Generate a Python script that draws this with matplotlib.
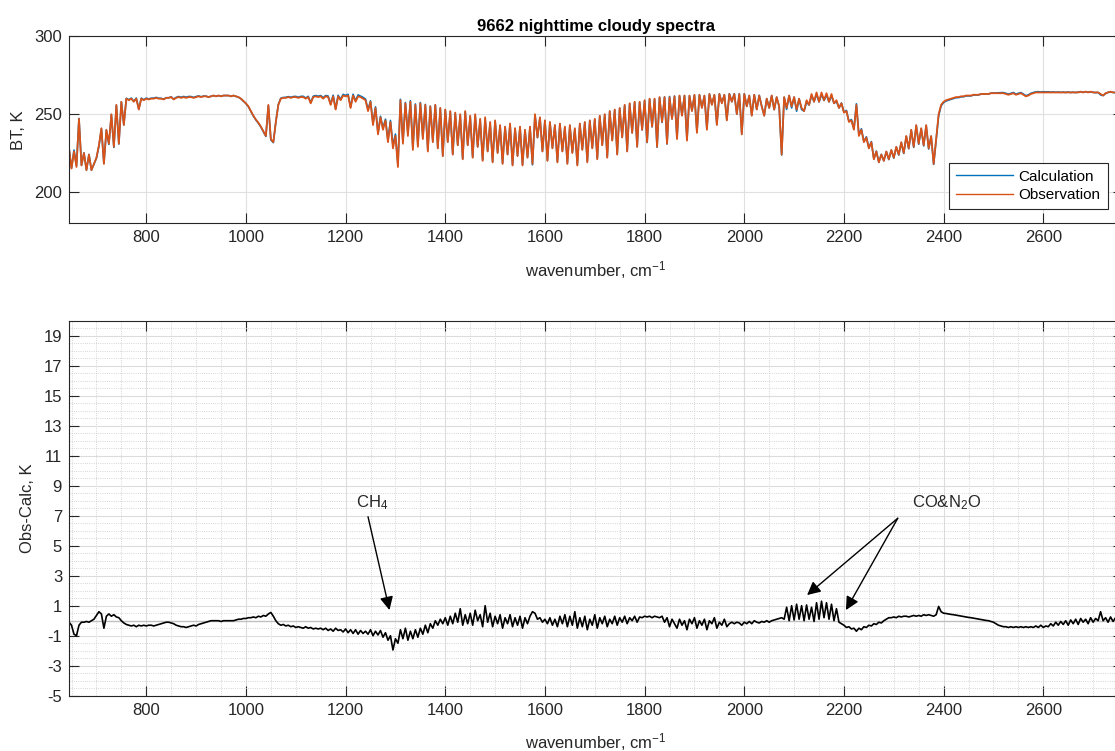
import numpy as np
import matplotlib
matplotlib.use('Agg')
from matplotlib import pyplot as plt
from matplotlib.ticker import MultipleLocator

plt.rcParams['font.family'] = ['Liberation Sans', 'DejaVu Sans']
plt.rcParams['mathtext.fontset'] = 'custom'
plt.rcParams['mathtext.rm'] = 'Liberation Sans'
plt.rcParams['mathtext.it'] = 'Liberation Sans:italic'
plt.rcParams['axes.unicode_minus'] = False

# channel grid, 5 cm-1 (645 .. 2760)
wn = np.arange(645, 2761, 5)

# observed brightness temperature, K (one row = 100 cm-1, 20 channels)
bt_obs = [
    228, 215, 226, 216, 247, 217, 225, 214, 224, 214, 218, 222, 230, 241, 218, 240, 231, 250, 229, 256,  # 645
    231, 258, 243, 260, 259, 260, 258, 260, 253, 260, 259, 260, 259.5, 260, 260, 260.5, 260, 260, 259.5, 260.5,  # 745
    260.5, 261, 259.5, 260.5, 261, 260.5, 261, 260.5, 261, 261, 260.5, 261, 261.5, 261, 261.5, 261.5, 261, 261.5, 262, 261.5,  # 845
    262, 261.5, 262, 262, 262, 261.5, 262, 261.5, 261, 260, 258.5, 257, 255, 252, 249, 246.5, 244.5, 242, 239, 236,  # 945
    256, 234, 232, 245, 256, 260, 260.5, 260.5, 261, 260.5, 261, 261, 260.5, 261, 261, 260, 261, 257, 261, 261.5,  # 1045
    261, 261.5, 260, 261.5, 261, 256, 261.5, 253, 261.5, 259, 262, 261.5, 262, 254, 262, 258, 261.5, 261, 260, 259,  # 1145
    252, 258, 243, 254, 237, 248, 240, 246, 232, 245, 228, 236, 216, 259, 231, 257, 236, 258, 227, 256,  # 1245
    229, 257, 234, 256, 226, 255, 232, 256, 228, 254, 223, 253, 232, 252, 224, 251, 230, 250, 221, 252,  # 1345
    230, 249, 222, 250, 229, 247, 220, 248, 226, 245, 219, 246, 225, 243, 218, 242, 224, 244, 217, 241,  # 1445
    223, 242, 217, 240, 222, 242, 218, 250, 235, 248, 226, 246, 220, 245, 228, 243, 219, 244, 226, 242,  # 1545
    218, 243, 225, 241, 217, 244, 227, 245, 219, 246, 228, 247, 221, 249, 230, 250, 222, 252, 233, 253,  # 1645
    224, 254, 235, 256, 226, 257, 238, 258, 229, 258, 240, 259, 232, 260, 242, 260, 229, 261, 245, 261,  # 1745
    231, 261, 247, 261.5, 234, 262, 249, 262, 233, 262, 252, 262.5, 238, 262.5, 254, 262, 240, 263, 256, 262.5,  # 1845
    243, 263, 257, 262.5, 246, 263, 258, 263, 250, 263, 237, 263, 255, 262, 249, 262.5, 253, 262, 255, 249,  # 1945
    260, 254, 262, 253, 261, 255, 224, 261, 254, 262, 255, 261, 253, 260, 254, 252, 259, 256, 263, 258,  # 2045
    264, 258, 264, 259, 263.5, 258, 263, 257, 259, 254, 257, 251, 252, 245, 246, 240, 256, 236, 240, 232,  # 2145
    235, 228, 232, 221, 226, 219, 224, 220, 226, 221, 227, 222, 229, 224, 232, 225, 236, 228, 240, 229,  # 2245
    243, 231, 241, 230, 243, 228, 236, 218, 234, 250, 256, 258, 259, 259.5, 260, 260.5, 261, 261, 261.5, 261.5,  # 2345
    262, 262, 262, 262.5, 262.5, 262.5, 263, 263, 263, 263, 263.5, 263.5, 263.5, 263.5, 263.5, 263.5, 263, 262.5, 263, 263.5,  # 2445
    262.5, 263, 263.5, 262.5, 261.5, 262, 263, 263.5, 264, 264, 264, 264, 264, 264, 264, 264, 264, 264, 264, 264,  # 2545
    264, 264, 264, 264, 264, 264, 264.5, 264, 264.5, 264, 264.5, 264, 264, 264, 263, 262, 263.5, 264, 264.5, 264,  # 2645
    264, 264.5, 264, 264,  # 2745
]

# observation minus calculation, K
bt_diff = [
    -0.1, -0.3, -0.9, -1.0, -0.3, -0.1, -0.1, -0.05, -0.1, 0.0, 0.1, 0.35, 0.6, 0.45, -0.5, 0.3, 0.45, 0.3, 0.4, 0.25,  # 645
    0.2, 0.0, -0.15, -0.25, -0.3, -0.35, -0.3, -0.4, -0.3, -0.35, -0.3, -0.35, -0.3, -0.3, -0.35, -0.3, -0.25, -0.2, -0.15, -0.1,  # 745
    -0.1, -0.15, -0.2, -0.3, -0.35, -0.4, -0.4, -0.45, -0.4, -0.35, -0.3, -0.35, -0.25, -0.2, -0.15, -0.1, -0.05, 0.0, 0.0, 0.0,  # 845
    0.0, -0.05, 0.0, 0.0, 0.0, 0.0, 0.0, 0.05, 0.1, 0.1, 0.15, 0.15, 0.2, 0.2, 0.25, 0.2, 0.3, 0.25, 0.35, 0.3,  # 945
    0.45, 0.55, 0.3, 0.0, -0.2, -0.3, -0.25, -0.35, -0.3, -0.4, -0.35, -0.45, -0.4, -0.45, -0.5, -0.4, -0.5, -0.45, -0.55, -0.5,  # 1045
    -0.55, -0.5, -0.6, -0.5, -0.65, -0.55, -0.7, -0.5, -0.65, -0.6, -0.75, -0.55, -0.8, -0.6, -0.85, -0.6, -0.9, -0.65, -0.85, -0.7,  # 1145
    -0.9, -0.6, -1.0, -0.7, -0.95, -0.65, -1.1, -0.8, -1.3, -1.0, -1.95, -1.2, -1.5, -0.6, -1.2, -0.5, -1.3, -0.7, -1.2, -0.6,  # 1245
    -1.1, -0.5, -0.9, -0.3, -0.8, -0.2, -0.5, 0.0, -0.3, 0.1, -0.2, 0.2, -0.3, 0.3, -0.2, 0.5, -0.1, 0.8, -0.3, 0.4,  # 1345
    -0.2, 0.5, -0.3, 0.7, 0.0, 0.4, -0.4, 1.0, -0.1, 0.5, -0.4, 0.3, -0.2, 0.4, -0.5, 0.2, -0.2, 0.4, -0.4, 0.2,  # 1445
    -0.3, 0.3, -0.5, 0.2, -0.2, 0.3, 0.6, 0.5, 0.1, 0.2, -0.1, 0.1, -0.2, 0.2, -0.3, 0.1, -0.4, 0.3, -0.2, 0.4,  # 1545
    -0.4, 0.3, -0.3, 0.6, -0.5, 0.2, -0.4, 0.3, -0.6, 0.1, -0.3, 0.4, -0.5, 0.2, -0.2, 0.3, -0.4, 0.1, -0.2, 0.3,  # 1645
    -0.3, 0.2, -0.1, 0.3, -0.2, 0.2, 0.0, 0.3, -0.1, 0.25, 0.2, 0.3, 0.25, 0.3, 0.2, 0.3, 0.25, 0.2, 0.3, -0.1,  # 1745
    0.2, -0.4, 0.1, -0.2, -0.5, 0.1, -0.3, 0.0, -0.6, 0.1, -0.2, 0.2, -0.5, 0.0, -0.3, 0.1, -0.6, 0.0, -0.2, 0.2,  # 1845
    -0.5, -0.1, -0.3, 0.1, -0.4, -0.2, -0.1, -0.2, -0.1, -0.15, -0.3, -0.1, -0.2, -0.05, -0.2, 0.0, -0.1, -0.15, -0.05, -0.1,  # 1945
    0.0, -0.1, 0.0, 0.05, 0.1, 0.15, 0.2, 0.1, 0.9, 0.0, 1.0, 0.05, 1.1, 0.1, 1.0, 0.0, 1.05, 0.1, 0.9, -0.05,  # 2045
    1.2, 0.1, 1.3, 0.2, 1.2, 0.1, 1.1, 0.0, 0.8, -0.1, -0.2, -0.3, -0.45, -0.4, -0.55, -0.5, -0.7, -0.5, -0.6, -0.4,  # 2145
    -0.45, -0.3, -0.35, -0.2, -0.25, -0.1, -0.15, 0.0, 0.1, 0.2, 0.2, 0.25, 0.2, 0.3, 0.25, 0.3, 0.3, 0.25, 0.3, 0.35,  # 2245
    0.3, 0.35, 0.3, 0.4, 0.35, 0.4, 0.35, 0.3, 0.4, 0.95, 0.6, 0.5, 0.48, 0.45, 0.42, 0.4, 0.37, 0.34, 0.31, 0.28,  # 2345
    0.25, 0.22, 0.2, 0.17, 0.14, 0.11, 0.08, 0.05, 0.02, 0.0, -0.05, -0.1, -0.2, -0.3, -0.35, -0.4, -0.4, -0.45, -0.4, -0.45,  # 2445
    -0.4, -0.45, -0.4, -0.45, -0.4, -0.45, -0.4, -0.45, -0.35, -0.45, -0.3, -0.45, -0.35, -0.4, -0.2, -0.35, -0.1, -0.3, -0.05, -0.25,  # 2545
    0.0, -0.3, 0.05, -0.2, 0.1, -0.25, 0.15, -0.1, 0.1, -0.2, 0.2, -0.1, 0.15, 0.0, 0.6, 0.0, 0.2, -0.1, 0.25, -0.05,  # 2645
    0.2, 0.0, 0.15, 0.05,  # 2745
]

bt_obs = np.array(bt_obs)
bt_diff = np.array(bt_diff)
bt_calc = bt_obs - bt_diff

xticks = [800, 1000, 1200, 1400, 1600, 1800, 2000, 2200, 2400, 2600]
dark = '#262626'

fig = plt.figure(figsize=(11.15, 7.51), dpi=100)
ax1 = fig.add_axes([0.0619, 0.7031, 0.9453, 0.2483])
ax2 = fig.add_axes([0.0619, 0.0736, 0.9453, 0.4994])

# top: spectra
ax1.plot(wn, bt_calc, color='#0072BD', lw=1.2, label='Calculation')
ax1.plot(wn, bt_obs, color='#D95319', lw=1.3, label='Observation')
ax1.set_xticks(xticks)
ax1.set_yticks([200, 250, 300])
ax1.set_xlim(645, 2760)
ax1.set_ylim(180, 300)
ax1.grid(True, color='#e0e0e0', lw=0.8)
ax1.set_axisbelow(True)
ax1.set_title('9662 nighttime cloudy spectra', fontweight='bold', fontsize=12, pad=4, color='k')
ax1.set_xlabel('wavenumber, cm$^{-1}$', fontsize=12, color=dark)
ax1.set_ylabel('BT, K', fontsize=12, color=dark)
ax1.xaxis.set_label_coords(0.5, -0.195)
ax1.yaxis.set_label_coords(-0.041, 0.5)
leg = ax1.legend(loc='lower left', bbox_to_anchor=(0.835, 0.075), borderaxespad=0,
                 fontsize=11, handlelength=3.7, handletextpad=0.4, labelspacing=0.3,
                 borderpad=0.45, fancybox=False, framealpha=1, edgecolor=dark)
leg.get_frame().set_linewidth(0.8)
for line in leg.get_lines():
    line.set_linewidth(1.0)

# bottom: difference
ax2.axhline(0, color='#c0c0c0', lw=1.0, zorder=1.5)
ax2.plot(wn, bt_diff, color='k', lw=1.2)
ax2.set_xticks(xticks)
ax2.set_yticks(range(-5, 20, 2))
ax2.set_xlim(645, 2760)
ax2.set_ylim(-5, 20)
ax2.xaxis.set_minor_locator(MultipleLocator(50))
ax2.yaxis.set_minor_locator(MultipleLocator(0.5))
ax2.grid(True, which='major', color='#dcdcdc', lw=0.8)
ax2.grid(True, which='minor', color='#c8c8c8', lw=0.6, ls=':')
ax2.set_axisbelow(True)
ax2.set_xlabel('wavenumber, cm$^{-1}$', fontsize=12, color=dark)
ax2.set_ylabel('Obs-Calc, K', fontsize=12, color=dark)
ax2.xaxis.set_label_coords(0.5, -0.094)
ax2.yaxis.set_label_coords(-0.032, 0.5)

for ax in (ax1, ax2):
    ax.tick_params(which='major', direction='in', top=True, right=True, length=7.5,
                   width=0.8, color=dark, labelcolor=dark, labelsize=12, pad=5)
    ax.tick_params(which='minor', length=0)
    for s in ax.spines.values():
        s.set_color(dark)
        s.set_linewidth(0.8)

# annotations
arrow = dict(arrowstyle='-|>', color='k', lw=1.0, mutation_scale=20, shrinkA=0, shrinkB=0)
ax2.text(1253, 7.58, 'CH$_4$', ha='center', va='baseline', fontsize=12, color=dark)
ax2.annotate('', xy=(1288, 0.71), xytext=(1245, 6.93), arrowprops=arrow)
ax2.text(2405, 7.58, 'CO&N$_2$O', ha='center', va='baseline', fontsize=12, color=dark)
ax2.annotate('', xy=(2126, 1.71), xytext=(2308, 6.83), arrowprops=arrow)
ax2.annotate('', xy=(2204, 0.71), xytext=(2308, 6.83), arrowprops=arrow)

fig.savefig('out.png', dpi=100)
